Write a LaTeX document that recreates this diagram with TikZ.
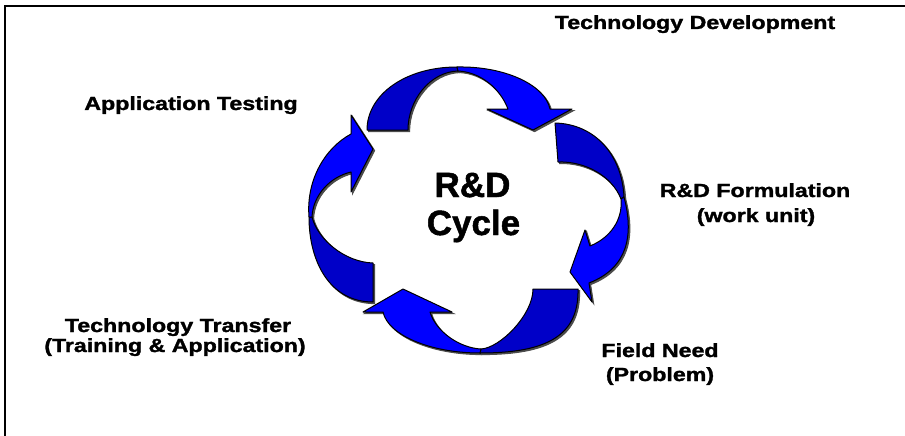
\documentclass[tikz,border=0pt]{standalone}
\usepackage{fontspec}
\setmainfont{Liberation Sans}
\newfontfamily\heavyfont{Liberation Sans}[BoldFeatures={FakeBold=1.4}]
\definecolor{brblue}{RGB}{0,0,255}
\definecolor{dkblue}{RGB}{0,0,200}
\tikzset{
  shade part/.style={fill=black!70, draw=black!70, line width=1pt, shift={(1.6,1.6)}},
  dark part/.style={fill=dkblue, draw=black, line width=1pt, line join=round},
  bright part/.style={fill=brblue, draw=black, line width=1pt, line join=round},
  lbl/.style={font=\heavyfont\bfseries\fontsize{19}{21}\selectfont, xscale=1.22, anchor=base, inner sep=0pt},
  big/.style={font=\heavyfont\bfseries\fontsize{35}{38}\selectfont, anchor=base, inner sep=0pt}
}
\newcommand\TopDark{(367,130) .. controls (367,95) and (405,67) .. (457,67) -- (458,71) .. controls (430,72) and (408,100) .. (408,130) -- cycle}
\newcommand\TopBright{(457,67) .. controls (505,66) and (545,85) .. (550,109) -- (572,109) -- (533,130) -- (487,109) -- (508,109) .. controls (500,88) and (480,72) .. (458,71) -- cycle}
\newcommand\RightDark{(555,123) .. controls (595,124) and (622,155) .. (624,197) -- (621,199) .. controls (612,176) and (585,161) .. (558,162) -- cycle}
\newcommand\RightBright{(624,197) .. controls (634,235) and (628,268) .. (589,283) -- (592,302) -- (570,272) -- (585,230) -- (590,246) .. controls (610,238) and (623,220) .. (621,199) -- cycle}
\newcommand\BottomDark{(578,289) .. controls (579,335) and (548,353) .. (480,353) -- (481,349) .. controls (500,348) and (533,315) .. (533,289) -- cycle}
\newcommand\BottomBright{(480,353) .. controls (430,353) and (388,335) .. (383,312) -- (363,312) -- (403,289) -- (452,312) -- (430,312) .. controls (436,332) and (460,348) .. (481,349) -- cycle}
\newcommand\LeftDark{(373,302) .. controls (330,302) and (309,262) .. (309,217) -- (312,217) .. controls (318,240) and (345,262) .. (373,263) -- cycle}
\newcommand\LeftBright{(309,217) .. controls (306,180) and (325,148) .. (351,134) -- (351,115) -- (373,149) -- (351,192) -- (351,172) .. controls (330,177) and (313,195) .. (312,217) -- cycle}
\begin{document}
\begin{tikzpicture}[x=1pt, y=-1pt]
\useasboundingbox (0,0) rectangle (905,436);
\fill[white] (0,0) rectangle (905,436);
% frame
\draw[line width=2pt] (905,6) -- (5,6) -- (5,436);
% arrows: shadows
\foreach \p in {\TopDark,\TopBright,\RightDark,\RightBright,\BottomDark,\BottomBright,\LeftDark,\LeftBright}
  {\path[shade part] \p;}
\path[dark part] \TopDark;
\path[bright part] \TopBright;
\path[dark part] \RightDark;
\path[bright part] \RightBright;
\path[dark part] \BottomDark;
\path[bright part] \BottomBright;
\path[dark part] \LeftDark;
\path[bright part] \LeftBright;
% centre text
\node[big] (rd) at (472.5,197) {R\&D};
\node[big] (cy) at (473.5,235) {Cycle};
% labels
\node[lbl] (td) at (695,29) {Technology Development};
\node[lbl] (at) at (191,110) {Application Testing};
\node[lbl] (rf1) at (755,197) {R\&D Formulation};
\node[lbl] (rf2) at (756,222) {(work unit)};
\node[lbl] (fn1) at (660,357) {Field Need};
\node[lbl] (fn2) at (660,381) {(Problem)};
\node[lbl] (tt1) at (178,332) {Technology Transfer};
\node[lbl] (tt2) at (175,352) {(Training \& Application)};
\end{tikzpicture}
\end{document}
